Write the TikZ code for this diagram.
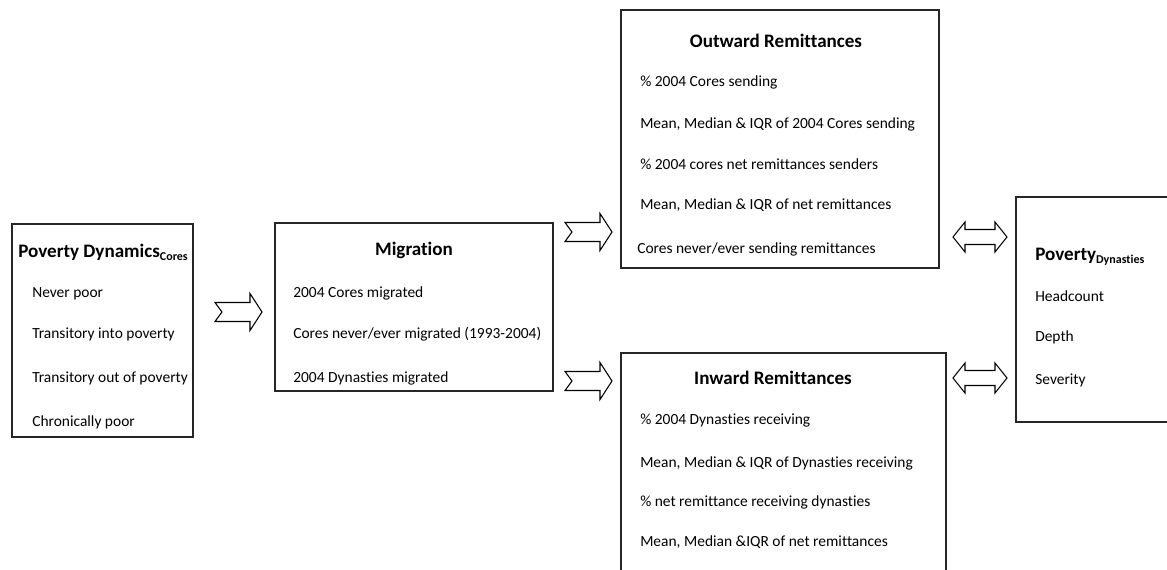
\documentclass[tikz,border=0pt]{standalone}
\usepackage{fontspec}
\setmainfont[Ligatures=NoCommon]{Carlito}
\usetikzlibrary{fit}
\begin{document}
\begin{tikzpicture}[x=0.75pt,y=-0.75pt,
  box/.style={draw=black!85, line width=1pt, inner sep=0pt},
  item/.style={anchor=base west, inner sep=0pt, font=\fontsize{11.6}{14}\selectfont},
  title/.style={anchor=base, inner sep=0pt, font=\fontsize{14.3}{17}\selectfont\bfseries},
  arrowline/.style={draw=black, line width=0.8pt, fill=white, line join=miter},
  fwdarrow/.pic={\path[arrowline] (0,-9.5) -- (35,-9.5) -- (35,-18.5) -- (47,0) -- (35,18.5) -- (35,9.5) -- (0,9.5) -- (7,0) -- cycle;},
  dblarrow/.pic={\path[arrowline] (0,0) -- (12,-15) -- (12,-7.5) -- (42,-7.5) -- (42,-15) -- (54,0) -- (42,15) -- (42,7.5) -- (12,7.5) -- (12,15) -- cycle;}
]
\newcommand{\lowsub}[1]{\raisebox{-2.2pt}{\fontsize{9}{10}\selectfont\bfseries #1}}
\useasboundingbox (0,0) rectangle (1167,570);
\begin{scope}
\clip (0,0) rectangle (1167,570);

% frames of the five boxes
\coordinate (dynA) at (12,224);   \coordinate (dynB) at (193,437);
\coordinate (migA) at (275,223);  \coordinate (migB) at (553,391);
\coordinate (outA) at (621,10);   \coordinate (outB) at (939,268);
\coordinate (inwA) at (621,353);  \coordinate (inwB) at (946,590);
\coordinate (povA) at (1016,197); \coordinate (povB) at (1190,422);
\node[box, fit=(dynA)(dynB)] (dyn) {};
\node[box, fit=(migA)(migB)] (mig) {};
\node[box, fit=(outA)(outB)] (out) {};
\node[box, fit=(inwA)(inwB)] (inw) {};
\node[box, fit=(povA)(povB)] (pov) {};

% Poverty dynamics of cores
\node[title] (dynT) at (103,258) {Poverty Dynamics\lowsub{Cores}};
\node[item] (dyn1) at (32,297) {Never poor};
\node[item] (dyn2) at (32,339) {Transitory into poverty};
\node[item] (dyn3) at (32,382) {Transitory out of poverty};
\node[item] (dyn4) at (32,426) {Chronically poor};

% Migration
\node[title] (migT) at (414,256) {Migration};
\node[item] (mig1) at (293,297) {2004 Cores migrated};
\node[item] (mig2) at (293,339) {Cores never/ever migrated (1993-2004)};
\node[item] (mig3) at (293,382) {2004 Dynasties migrated};

% Outward remittances
\node[title] (outT) at (776,48) {Outward Remittances};
\node[item] (out1) at (640,87) {\% 2004 Cores sending};
\node[item] (out2) at (640,129) {Mean, Median \& IQR of 2004 Cores sending};
\node[item] (out3) at (640,170) {\% 2004 cores net remittances senders};
\node[item] (out4) at (640,210) {Mean, Median \& IQR of net remittances};
\node[item] (out5) at (637,254) {Cores never/ever sending remittances};

% Inward remittances
\node[title] (inwT) at (773,384) {Inward Remittances};
\node[item] (inw1) at (640,424) {\% 2004 Dynasties receiving};
\node[item] (inw2) at (640,467) {Mean, Median \& IQR of Dynasties receiving};
\node[item] (inw3) at (640,506) {\% net remittance receiving dynasties};
\node[item] (inw4) at (640,546) {Mean, Median \&IQR of net remittances};

% Poverty of dynasties
\node[title, anchor=base west] (povT) at (1035,261) {Poverty\lowsub{Dynasties}};
\node[item] (pov1) at (1035,301) {Headcount};
\node[item] (pov2) at (1035,341) {Depth};
\node[item] (pov3) at (1035,384) {Severity};

% block arrows between the boxes
\pic at (215,312) {fwdarrow};
\pic at (565,232) {fwdarrow};
\pic at (565,381) {fwdarrow};
\pic at (953,237) {dblarrow};
\pic at (953,378) {dblarrow};
\end{scope}
\end{tikzpicture}
\end{document}
